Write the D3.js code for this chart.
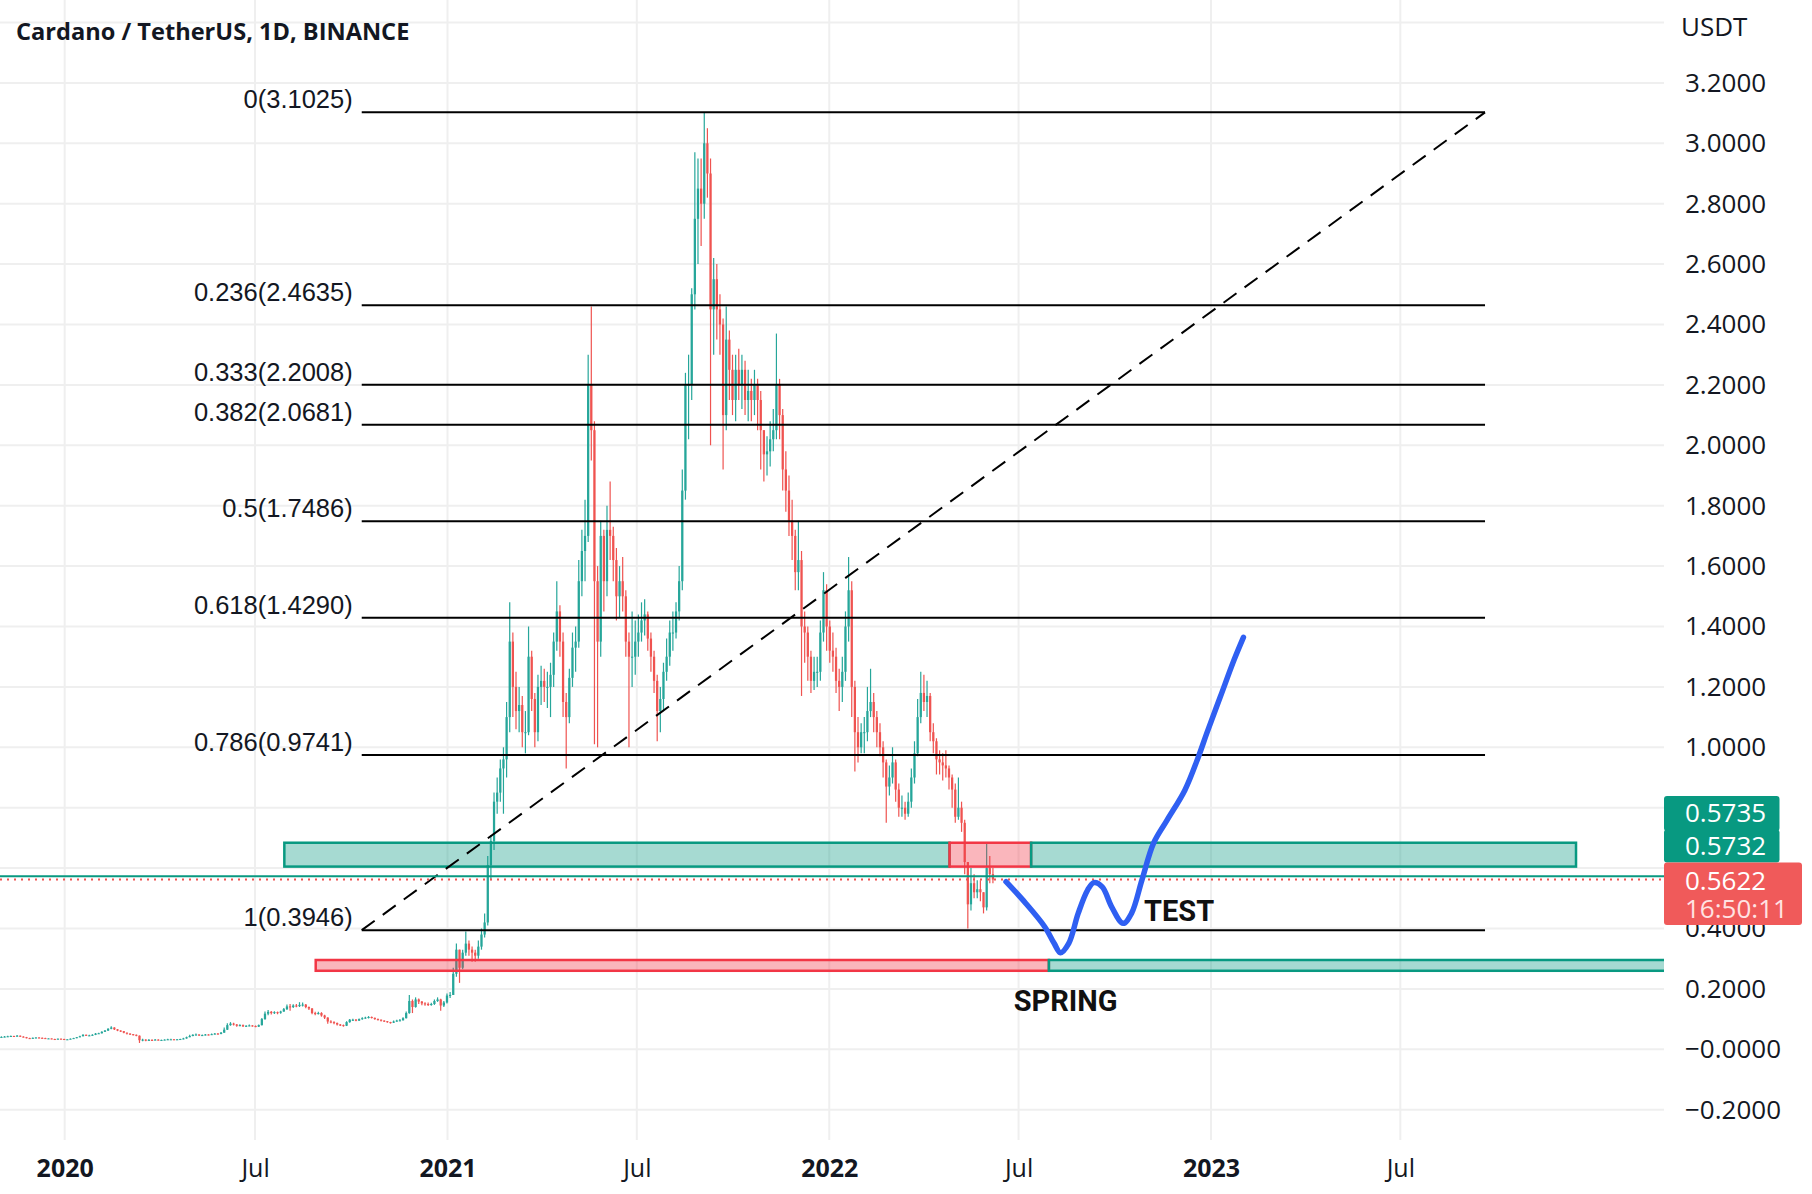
<!DOCTYPE html>
<html><head><meta charset="utf-8">
<script src="https://cdnjs.cloudflare.com/ajax/libs/d3/7.8.5/d3.min.js"></script>
<style>html,body{margin:0;padding:0;background:#fff;} svg{display:block;}</style>
</head><body>
<svg id="chart" width="1812" height="1194"></svg>
<script>
// ---------------- DATA ----------------
const title = "Cardano / TetherUS, 1D, BINANCE";
const unitLabel = "USDT";
const candleStart = "2019-10-31";
const candleStepDays = 3;
const firstOpen = 0.040;
const closes = [
.041,.042,.043,.044,.043,.045,.042,.040,.037,.036,.038,
.039,.038,.037,.036,.036,.034,.033,.035,.034,.033,
.033,.035,.037,.040,.043,.048,.045,.046,.048,.052,
.053,.058,.062,.068,.072,.066,.062,.060,.055,.052,
.050,.048,.045,.030,.032,.030,.031,.030,.032,.030,
.031,.032,.033,.033,.032,.033,.034,.036,.040,.044,
.048,.049,.046,.047,.049,.048,.050,.052,.051,.055,.065,
.080,.085,.082,.078,.080,.076,.078,.079,.077,.075,
.080,.100,.118,.124,.120,.123,.121,.125,.133,.142,
.140,.145,.143,.147,.148,.140,.135,.120,.118,.120,
.112,.105,.092,.090,.087,.082,.080,.078,.090,.098,
.098,.095,.100,.103,.105,.107,.104,.100,.098,.095,
.093,.090,.088,.092,.095,.096,.103,.120,.160,.140,
.165,.158,.152,.150,.148,.150,.160,.165,.145,.155,.178,
.180,.250,.330,.270,.320,.350,.330,.320,.310,.340,
.380,.420,.610,.690,.820,.850,.930,.960,1.10,1.35,
1.20,1.12,1.14,1.05,1.05,1.30,1.16,1.05,1.20,1.22,
1.20,1.20,1.24,1.35,1.45,1.35,1.15,1.10,1.23,1.33,
1.35,1.55,1.65,1.70,2.20,2.05,1.55,1.35,1.70,1.55,
1.72,1.70,1.62,1.50,1.55,1.50,1.35,1.30,1.30,1.35,
1.38,1.42,1.44,1.36,1.30,1.22,1.12,1.16,1.25,1.30,1.38,
1.38,1.45,1.55,1.85,2.20,2.20,2.50,2.75,2.85,2.80,
3.00,2.90,2.45,2.55,2.45,2.40,2.10,2.35,2.25,2.15,
2.25,2.20,2.25,2.15,2.18,2.15,2.20,2.15,2.05,1.97,
1.98,2.02,2.05,2.20,2.10,1.92,1.85,1.75,1.70,1.58,
1.62,1.40,1.38,1.30,1.22,1.25,1.25,1.38,1.52,1.40,1.32,
1.30,1.22,1.20,1.25,1.40,1.52,1.20,1.05,1.00,1.05,
1.05,1.12,1.15,1.10,1.05,1.00,0.95,0.87,0.90,
0.95,0.86,0.80,0.80,0.78,0.82,0.90,0.98,1.10,1.18,1.15,
1.17,1.05,1.02,0.96,0.95,0.94,0.93,0.90,0.86,0.77,
0.80,0.75,0.62,0.48,0.55,0.52,0.53,0.52,0.47,0.60,
0.58,0.5622];
const highs = [
.043,.044,.045,.046,.045,.047,.046,.043,.041,.038,.039,
.040,.040,.039,.038,.037,.036,.035,.036,.036,.035,
.034,.036,.038,.041,.045,.050,.049,.048,.050,.054,
.055,.060,.064,.070,.076,.073,.067,.063,.061,.056,
.053,.051,.049,.046,.035,.033,.034,.033,.034,.033,
.032,.033,.035,.035,.034,.034,.035,.038,.042,.048,
.050,.052,.050,.049,.051,.050,.052,.054,.054,.057,.072,
.086,.090,.088,.084,.083,.082,.080,.082,.080,.079,
.082,.104,.125,.130,.127,.126,.125,.128,.137,.148,
.150,.149,.150,.156,.155,.150,.142,.137,.124,.124,
.123,.114,.106,.096,.093,.089,.084,.082,.093,.100,
.101,.100,.102,.106,.108,.110,.109,.105,.102,.099,
.096,.094,.091,.095,.098,.100,.106,.125,.180,.165,
.172,.168,.160,.156,.155,.154,.165,.172,.167,.160,.185,
.190,.270,.350,.330,.330,.390,.360,.340,.330,.360,
.400,.450,.640,.710,.850,.900,.960,1.00,1.15,1.48,
1.38,1.25,1.20,1.17,1.12,1.40,1.32,1.18,1.24,1.27,
1.26,1.25,1.28,1.38,1.55,1.47,1.38,1.18,1.26,1.38,
1.40,1.62,1.72,1.82,2.30,2.46,2.08,1.60,1.75,1.72,
1.80,1.88,1.73,1.66,1.60,1.63,1.52,1.38,1.45,1.42,
1.44,1.48,1.49,1.45,1.38,1.32,1.24,1.20,1.28,1.36,1.42,
1.45,1.48,1.60,1.92,2.24,2.30,2.52,2.97,2.95,2.95,
3.10,3.05,2.95,2.62,2.60,2.50,2.42,2.46,2.38,2.30,
2.30,2.32,2.30,2.28,2.25,2.22,2.25,2.22,2.18,2.05,
2.03,2.08,2.12,2.37,2.22,2.12,1.98,1.90,1.82,1.72,
1.75,1.65,1.45,1.40,1.32,1.30,1.30,1.42,1.58,1.54,1.42,
1.38,1.33,1.26,1.30,1.45,1.63,1.55,1.22,1.10,1.08,
1.10,1.20,1.26,1.18,1.12,1.08,1.02,0.96,0.94,
1.00,0.96,0.88,0.84,0.82,0.85,0.93,1.02,1.16,1.25,1.24,
1.22,1.18,1.08,1.03,0.99,0.98,0.99,0.94,0.91,0.88,
0.90,0.82,0.76,0.62,0.60,0.58,0.56,0.56,0.52,0.68,
0.64,0.60];
const lows = [
.039,.040,.041,.042,.041,.042,.041,.039,.036,.034,.035,
.037,.037,.036,.035,.035,.033,.032,.033,.033,.032,
.032,.033,.035,.037,.040,.043,.044,.044,.045,.047,
.051,.052,.057,.061,.066,.064,.060,.057,.053,.049,
.047,.046,.043,.021,.027,.027,.029,.028,.030,.029,
.029,.030,.031,.032,.031,.031,.032,.033,.035,.040,
.043,.046,.044,.044,.046,.046,.047,.049,.049,.050,.055,
.064,.078,.079,.075,.076,.074,.074,.076,.075,.073,
.074,.079,.098,.113,.115,.117,.116,.118,.124,.130,
.128,.137,.139,.140,.142,.136,.130,.116,.113,.115,
.108,.100,.085,.086,.083,.079,.077,.075,.077,.088,
.094,.093,.094,.098,.101,.102,.102,.098,.095,.092,
.090,.088,.085,.087,.091,.093,.095,.102,.118,.120,
.138,.150,.146,.144,.143,.144,.147,.157,.128,.140,.152,
.170,.180,.240,.220,.265,.310,.310,.290,.290,.300,
.330,.370,.410,.560,.660,.780,.820,.780,.900,1.05,
1.10,1.06,1.05,1.00,0.98,1.04,1.12,1.00,1.02,1.14,
1.15,1.13,1.10,1.20,1.32,1.30,1.10,0.93,1.08,1.20,
1.25,1.33,1.50,1.55,1.68,1.95,1.01,1.00,1.30,1.45,
1.50,1.62,1.55,1.42,1.43,1.45,1.30,1.00,1.20,1.24,
1.30,1.35,1.37,1.32,1.25,1.18,1.02,1.05,1.12,1.22,1.27,
1.32,1.36,1.42,1.52,1.82,2.02,2.15,2.45,2.60,2.66,
2.75,2.82,2.00,2.30,2.35,2.30,1.92,2.05,2.15,2.10,
2.08,2.15,2.12,2.10,2.08,2.08,2.10,2.05,1.92,1.88,
1.90,1.93,1.98,2.02,2.02,1.85,1.78,1.70,1.62,1.52,
1.52,1.17,1.28,1.22,1.18,1.19,1.20,1.22,1.35,1.32,1.28,
1.25,1.18,1.12,1.15,1.22,1.35,1.10,0.92,0.95,0.98,
0.98,1.02,1.10,1.05,1.00,0.97,0.90,0.75,0.84,
0.88,0.82,0.77,0.77,0.76,0.77,0.80,0.88,0.97,1.08,1.12,
1.10,1.02,0.98,0.91,0.91,0.89,0.90,0.86,0.80,0.75,
0.76,0.72,0.58,0.40,0.46,0.50,0.50,0.49,0.45,0.46,
0.55,0.55];

const priceTicks = [-0.2,0,0.2,0.4,1.0,1.2,1.4,1.6,1.8,2.0,2.2,2.4,2.6,2.8,3.0,3.2];
const priceTickLabels = ["\u22120.2000","\u22120.0000","0.2000","0.4000","1.0000","1.2000","1.4000","1.6000","1.8000","2.0000","2.2000","2.4000","2.6000","2.8000","3.0000","3.2000"];
const gridPrices = [-0.2,0,0.2,0.4,0.6,0.8,1.0,1.2,1.4,1.6,1.8,2.0,2.2,2.4,2.6,2.8,3.0,3.2,3.4];
const timeTicks = ["2020-01-01","2020-07-01","2021-01-01","2021-07-01","2022-01-01","2022-07-01","2023-01-01","2023-07-01"];
const timeTickLabels = ["2020","Jul","2021","Jul","2022","Jul","2023","Jul"];

const fibRatios = ["0","0.236","0.333","0.382","0.5","0.618","0.786","1"];
const fibPrices = [3.1025,2.4635,2.2008,2.0681,1.7486,1.4290,0.9741,0.3946];
const fibStart = "2020-10-11", fibEnd = "2023-09-20";

const zoneStart = ["2020-07-29","2022-04-26","2022-07-13","2020-08-28","2022-07-30"];
const zoneEnd   = ["2022-04-26","2022-07-13","2023-12-16","2022-07-30","2024-06-30"];
const zoneHigh  = [0.684,0.684,0.684,0.2957,0.2957];
const zoneLow   = [0.605,0.605,0.605,0.260,0.260];
const zoneKind  = ["green","red","green","red","green"];

const projDates = ["2022-06-19","2022-07-08","2022-07-26","2022-08-04","2022-08-10","2022-08-18","2022-08-27","2022-09-05","2022-09-11","2022-09-19","2022-09-28","2022-10-09","2022-10-17","2022-10-27","2022-11-07","2022-11-20","2022-12-07","2022-12-20","2022-12-28","2023-01-10","2023-01-23","2023-02-01"];
const projPrices = [0.555,0.483,0.406,0.351,0.320,0.351,0.450,0.527,0.552,0.538,0.472,0.417,0.450,0.561,0.682,0.759,0.858,0.969,1.047,1.168,1.289,1.364];

const annotTexts = ["SPRING","TEST"];
const annotDates = ["2022-08-15","2022-10-29"];
const annotPrices = [0.163,0.461];

const alertPriceLine = 0.5732;
const tagGreen = ["0.5735","0.5732"];
const lastPrice = 0.5622;
const countdown = "16:50:11";

// ---------------- CHART ----------------
const W = 1812, H = 1194, plotR = 1664, plotB = 1140;
const UP = "#26a69a", DOWN = "#ef5350";
const parse = d3.utcParse("%Y-%m-%d");
const x = d3.scaleUtc().domain([parse("2020-01-01"), parse("2023-01-01")]).range([64.7, 1211]);
const y = d3.scaleLinear().domain([-0.2, 3.2]).range([1109.7, 82.9]);

const svg = d3.select("#chart");
svg.append("rect").attr("width",W).attr("height",H).attr("fill","#fff");
svg.append("defs").append("clipPath").attr("id","plotclip")
  .append("rect").attr("x",0).attr("y",0).attr("width",plotR).attr("height",plotB);

// grid
const grid = svg.append("g");
grid.selectAll("line.h").data(gridPrices).join("line")
  .attr("x1",0).attr("x2",plotR).attr("y1",d=>y(d)).attr("y2",d=>y(d))
  .attr("stroke","#efefef").attr("stroke-width",2);
grid.selectAll("line.v").data(timeTicks).join("line")
  .attr("x1",d=>x(parse(d))).attr("x2",d=>x(parse(d))).attr("y1",0).attr("y2",plotB)
  .attr("stroke","#efefef").attr("stroke-width",2);

const plot = svg.append("g").attr("clip-path","url(#plotclip)");

// candles
const t0 = parse(candleStart);
const stepPx = x(d3.utcDay.offset(t0, candleStepDays)) - x(t0);
const candles = closes.map((c,i)=>({
  t: d3.utcDay.offset(t0, i*candleStepDays),
  o: i===0 ? firstOpen : closes[i-1], h: highs[i], l: lows[i], c
}));
const cg = plot.append("g");
cg.selectAll("line").data(candles).join("line")
  .attr("x1",d=>x(d.t)+stepPx/2).attr("x2",d=>x(d.t)+stepPx/2)
  .attr("y1",d=>y(d.h)).attr("y2",d=>y(d.l))
  .attr("stroke",d=>d.c>=d.o?UP:DOWN).attr("stroke-width",1.2);
cg.selectAll("rect").data(candles).join("rect")
  .attr("x",d=>x(d.t)+stepPx*0.14).attr("width",stepPx*0.72)
  .attr("y",d=>y(Math.max(d.o,d.c)))
  .attr("height",d=>Math.max(1,Math.abs(y(d.o)-y(d.c))))
  .attr("fill",d=>d.c>=d.o?UP:DOWN);

// zones
const zones = zoneStart.map((s,i)=>({s:parse(s),e:parse(zoneEnd[i]),hi:zoneHigh[i],lo:zoneLow[i],k:zoneKind[i]}));
plot.append("g").selectAll("rect").data(zones).join("rect")
  .attr("x",d=>x(d.s)).attr("width",d=>x(d.e)-x(d.s))
  .attr("y",d=>y(d.hi)).attr("height",d=>y(d.lo)-y(d.hi))
  .attr("fill",d=>d.k==="green"?"rgba(8,153,129,0.36)":"rgba(242,54,69,0.36)")
  .attr("stroke",d=>d.k==="green"?"#089981":"#f23645").attr("stroke-width",2.5);

// fib levels
const fx0 = x(parse(fibStart)), fx1 = x(parse(fibEnd));
const fg = plot.append("g");
fg.selectAll("line").data(fibPrices).join("line")
  .attr("x1",fx0).attr("x2",fx1).attr("y1",d=>y(d)).attr("y2",d=>y(d))
  .attr("stroke","#000").attr("stroke-width",2);
fg.selectAll("text").data(fibPrices).join("text")
  .attr("x",fx0-9).attr("y",d=>y(d)-4).attr("text-anchor","end")
  .attr("font-family","Liberation Sans, Arial, sans-serif").attr("font-size",25.5).attr("fill","#131722")
  .text((d,i)=>`${fibRatios[i]}(${d.toFixed(4)})`);
plot.append("line")
  .attr("x1",fx0).attr("y1",y(fibPrices[fibPrices.length-1]))
  .attr("x2",fx1).attr("y2",y(fibPrices[0]))
  .attr("stroke","#000").attr("stroke-width",2).attr("stroke-dasharray","16,10");

// price lines
plot.append("line").attr("x1",0).attr("x2",plotR).attr("y1",y(alertPriceLine)).attr("y2",y(alertPriceLine))
  .attr("stroke","#089981").attr("stroke-width",2);
plot.append("line").attr("x1",0).attr("x2",plotR).attr("y1",y(lastPrice)).attr("y2",y(lastPrice))
  .attr("stroke","#ef5350").attr("stroke-width",2).attr("stroke-dasharray","2,5");

// projection curve
const proj = projDates.map((d,i)=>({t:parse(d),p:projPrices[i]}));
plot.append("path").datum(proj)
  .attr("d", d3.line().x(d=>x(d.t)).y(d=>y(d.p)).curve(d3.curveCatmullRom.alpha(0.5)))
  .attr("fill","none").attr("stroke","#2f5ff2").attr("stroke-width",5.5)
  .attr("stroke-linecap","round").attr("stroke-linejoin","round");

// annotations
plot.selectAll("text.annot").data(annotTexts).join("text")
  .attr("x",(d,i)=>x(parse(annotDates[i]))).attr("y",(d,i)=>y(annotPrices[i]))
  .attr("dy","0.36em").attr("text-anchor",(d,i)=>i===0?"middle":"start")
  .attr("font-family","Roboto").attr("font-weight",700).attr("font-size",29).attr("fill","#111")
  .text(d=>d);

// title
svg.append("text").attr("x",16).attr("y",40).attr("font-family","Open Sans").attr("font-weight",700)
  .attr("font-size",23.6).attr("fill","#131722").text(title);

// price axis
const yAxis = d3.axisRight(y).tickValues(priceTicks).tickFormat((d,i)=>priceTickLabels[i]).tickSize(0).tickPadding(21);
const ya = svg.append("g").attr("transform",`translate(${plotR},0)`).call(yAxis);
ya.select(".domain").remove();
ya.attr("font-family","Open Sans").attr("font-size",26);
ya.selectAll("text").attr("fill","#131722");
svg.append("text").attr("x",plotR+17).attr("y",36).attr("font-family","Open Sans").attr("font-size",26)
  .attr("fill","#131722").text(unitLabel);

// time axis
const xAxis = d3.axisBottom(x).tickValues(timeTicks.map(parse)).tickFormat((d,i)=>timeTickLabels[i]).tickSize(0).tickPadding(19);
const xa = svg.append("g").attr("transform",`translate(0,${plotB})`).call(xAxis);
xa.select(".domain").remove();
xa.attr("font-family","Open Sans").attr("font-size",25);
xa.selectAll("text").attr("fill","#131722").attr("font-weight",(d,i)=>/^\d/.test(timeTickLabels[i])?700:400);

// price tags
const yl = y(lastPrice);
const tagTop = yl - 17, tagBot = yl + 45.5;
const gTop = tagTop - 66.5;
svg.append("rect").attr("x",plotR).attr("y",gTop).attr("width",115.5).attr("height",35).attr("rx",3).attr("fill","#089981");
svg.append("rect").attr("x",plotR).attr("y",gTop+33.5).attr("width",115.5).attr("height",33).attr("rx",3).attr("fill","#089981");
svg.append("rect").attr("x",plotR).attr("y",tagTop).attr("width",138).attr("height",tagBot-tagTop).attr("rx",3).attr("fill","#f05a5a");
svg.selectAll("text.tg").data(tagGreen).join("text")
  .attr("x",plotR+21).attr("y",(d,i)=>gTop+17+i*33).attr("dy","0.35em")
  .attr("font-family","Open Sans").attr("font-size",26).attr("fill","#fff").text(d=>d);
svg.append("text").attr("x",plotR+21).attr("y",yl+1).attr("dy","0.35em")
  .attr("font-family","Open Sans").attr("font-size",26).attr("fill","#fff").text(lastPrice.toFixed(4));
svg.append("text").attr("x",plotR+21).attr("y",yl+29).attr("dy","0.35em")
  .attr("font-family","Open Sans").attr("font-size",26).attr("fill","#ffe3e3").text(countdown);
</script></body></html>
